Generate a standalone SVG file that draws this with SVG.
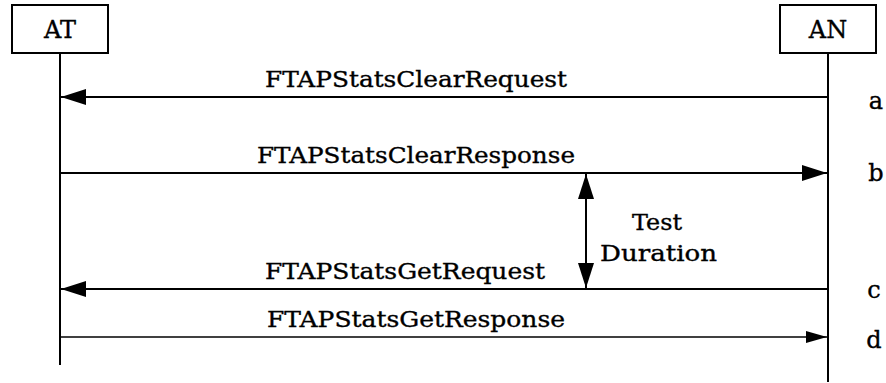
<svg xmlns="http://www.w3.org/2000/svg" width="886" height="383" viewBox="0 0 886 383">
<style>
text{font-family:"DejaVu Serif","Liberation Serif",serif;font-size:22px;fill:#000;stroke:#000;stroke-width:0.35}
.node{font-size:24px}
.tag{font-size:24px}
.box{fill:#fff;stroke:#000;stroke-width:2}
.life{stroke:#000;stroke-width:2}
.msg{stroke:#000;stroke-width:2;fill:none}
.thin{stroke:#000;stroke-width:1.5;fill:none}
</style>
<defs>
<marker id="ah" markerUnits="userSpaceOnUse" markerWidth="26" markerHeight="18" refX="25" refY="9" orient="auto">
<path d="M0,1 L25,9 L0,17 Z" fill="#000"/>
</marker>
<marker id="ahs" markerUnits="userSpaceOnUse" markerWidth="22" markerHeight="14" refX="21" refY="7" orient="auto">
<path d="M0,1 L21,7 L0,13 Z" fill="#000"/>
</marker>
</defs>
<g id="AT">
<rect class="box" x="12" y="5" width="96" height="48"/>
<text class="node" x="60" y="38" text-anchor="middle">AT</text>
<line class="life" x1="60" y1="53" x2="60" y2="365"/>
</g>
<g id="AN">
<rect class="box" x="780" y="5" width="96" height="48"/>
<text class="node" x="828" y="38" text-anchor="middle">AN</text>
<line class="life" x1="828" y1="53" x2="828" y2="382"/>
</g>
<g id="connectors">
<line class="msg" x1="827" y1="97" x2="61" y2="97" marker-end="url(#ah)"/>
<line class="msg" x1="61" y1="173" x2="827" y2="173" marker-end="url(#ah)"/>
<line class="msg" x1="827" y1="289" x2="61" y2="289" marker-end="url(#ah)"/>
<line class="thin" x1="61" y1="337" x2="827" y2="337" marker-end="url(#ahs)"/>
<line class="msg" x1="586" y1="230" x2="586" y2="174" marker-end="url(#ah)"/>
<line class="msg" x1="586" y1="230" x2="586" y2="288" marker-end="url(#ah)"/>
</g>
<g id="labels">
<text x="265" y="87" textLength="302" lengthAdjust="spacingAndGlyphs">FTAPStatsClearRequest</text>
<text x="257" y="163" textLength="318" lengthAdjust="spacingAndGlyphs">FTAPStatsClearResponse</text>
<text x="265" y="279" textLength="280" lengthAdjust="spacingAndGlyphs">FTAPStatsGetRequest</text>
<text x="267" y="327" textLength="298" lengthAdjust="spacingAndGlyphs">FTAPStatsGetResponse</text>
<text x="632" y="230" textLength="50" lengthAdjust="spacingAndGlyphs">Test</text>
<text x="600" y="261" textLength="117" lengthAdjust="spacingAndGlyphs">Duration</text>
<text class="tag" x="876" y="109" text-anchor="middle">a</text>
<text class="tag" x="876" y="181" text-anchor="middle">b</text>
<text class="tag" x="874" y="298" text-anchor="middle">c</text>
<text class="tag" x="874" y="348" text-anchor="middle">d</text>
</g>
</svg>
